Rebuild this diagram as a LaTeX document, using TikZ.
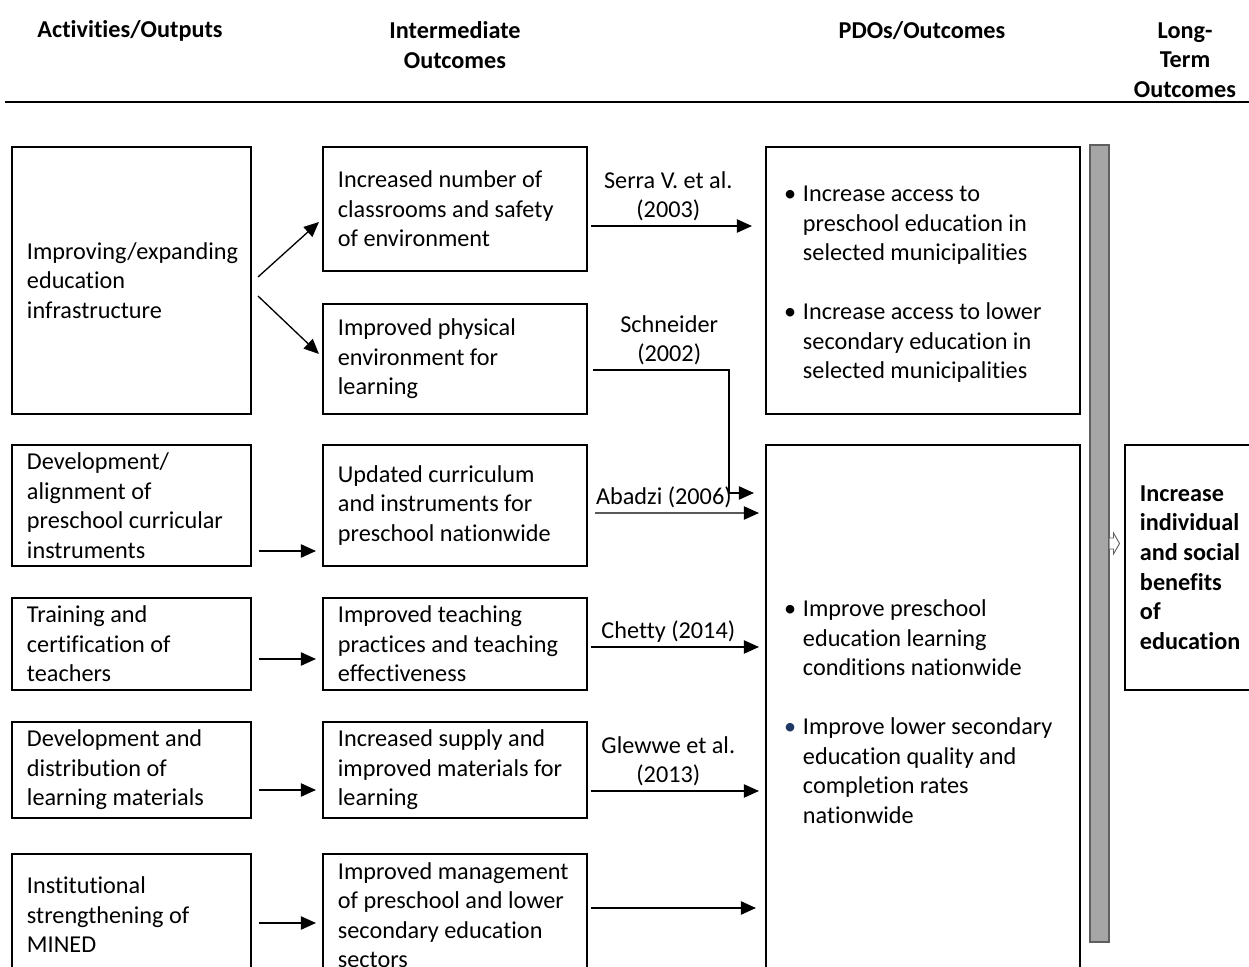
\documentclass[tikz,border=0pt]{standalone}
\usepackage{fontspec}
\setmainfont{Carlito}[Ligatures=NoCommon]
\usetikzlibrary{arrows.meta}

\definecolor{barfill}{RGB}{166,166,166}
\definecolor{baredge}{RGB}{95,95,95}
\definecolor{bulletblue}{RGB}{31,56,100}
\hyphenpenalty=10000
\exhyphenpenalty=10000

\tikzset{
  box/.style={draw, line width=0.9pt, inner xsep=6.8pt, align=flush left},
  colA/.style={box, minimum width=108.5pt, text width=94.9pt},
  colB/.style={box, minimum width=119.9pt, text width=106.3pt},
  colC/.style={box, minimum width=142.6pt, text width=126.2pt, inner xsep=8.2pt},
  head/.style={font=\fontsize{11}{13.4}\selectfont\bfseries, align=center},
  arr/.style={line width=0.6pt, -{Triangle[length=6.8pt,width=6pt]}},
  lbl/.style={align=center, inner sep=2pt},
}

\begin{document}
\begin{tikzpicture}[x=0.454pt, y=-0.454pt, font=\fontsize{11}{13.4}\selectfont]

\useasboundingbox (0,0) rectangle (1249,967);
\clip (0,0) rectangle (1249,967);

\begin{scope}

% encabezado
\node[head] (h1) at (130,31) {Activities/Outputs};
\node[head] (h2) at (455,45) {Intermediate\\Outcomes};
\node[head] (h3) at (922,31) {PDOs/Outcomes};
\node[head] (h4) at (1185,60) {Long-\\Term\\Outcomes};
\draw[line width=0.9pt] (5,102) -- (1249,102);

% actividades
\node[colA, minimum height=121.2pt] (a1) at (131.5,280.5) {Improving/expanding\\education\\infrastructure};
\node[colA, minimum height=54.9pt] (a2) at (131.5,505.5) {Development/\\alignment of\\preschool curricular\\instruments};
\node[colA, minimum height=41.8pt] (a3) at (131.5,644) {Training and\\certification of\\teachers};
\node[colA, minimum height=43.6pt] (a4) at (131.5,770) {Development and\\distribution of\\learning materials};
\node[colA, minimum height=55.4pt] (a5) at (131.5,915) {Institutional\\strengthening of\\MINED};

% resultados intermedios
\node[colB, minimum height=56.3pt] (b1) at (455,209) {Increased number of\\classrooms and safety\\of environment};
\node[colB, minimum height=49.9pt] (b2) at (455,359) {Improved physical\\environment for\\learning};
\node[colB, minimum height=54.9pt] (b3) at (455,505.5) {Updated curriculum\\and instruments for\\preschool nationwide};
\node[colB, minimum height=41.8pt] (b4) at (455,644) {Improved teaching\\practices and teaching\\effectiveness};
\node[colB, minimum height=43.6pt] (b5) at (455,770) {Increased supply and\\improved materials for\\learning};
\node[colB, minimum height=55.4pt] (b6) at (455,915) {Improved management\\of preschool and lower\\secondary education\\sectors};

% PDOs
\node[colC, minimum height=121.2pt] (c1) at (923,280.5) {%
  \begin{tabular}{@{}p{8.6pt}@{}l@{}}
  \rule{0pt}{13pt}\textbullet & Increase access to\\
   & preschool education in\\
   & selected municipalities\\[13.4pt]
  \textbullet & Increase access to lower\\
   & secondary education in\\
   & selected municipalities
  \end{tabular}};
\node[colC, minimum height=241.5pt] (c2) at (923,711) {%
  \begin{tabular}{@{}p{8.6pt}@{}l@{}}
  \rule{0pt}{12.1pt}\textbullet & Improve preschool\\
   & education learning\\
   & conditions nationwide\\[13.4pt]
  \textcolor{bulletblue}{\textbullet} & Improve lower secondary\\
   & education quality and\\
   & completion rates\\
   & nationwide
  \end{tabular}};

% barra y largo plazo
\node[draw=baredge, fill=barfill, line width=0.5pt, minimum width=8.6pt, minimum height=361.8pt, inner sep=0pt] (bar) at (1099.5,543.5) {};
\draw[baredge, fill=white, line width=0.4pt] (bar.east) ++(0,-5.5) -- ++(4,0) -- ++(0,-5) -- ++(6,10.5) -- ++(-6,10.5) -- ++(0,-5) -- ++(-4,0);
\node[box, font=\fontsize{11}{13.4}\selectfont\bfseries, minimum width=62.2pt, text width=48.6pt, minimum height=111.2pt] (d) at (1193.5,567.5) {Increase\\individual\\and social\\benefits\\of\\education};

% flechas
\draw[arr] ([shift={(6,-3.5)}]a1.east) -- ([shift={(-3,13)}]b1.west);
\draw[arr] ([shift={(6,15.5)}]a1.east) -- ([shift={(-3,-5)}]b2.west);
\draw[arr] ([shift={(7,45.5)}]a2.east) -- ([shift={(-6,45.5)}]b3.west);
\draw[arr] ([shift={(7,15)}]a3.east) -- ([shift={(-6,15)}]b4.west);
\draw[arr] ([shift={(7,20)}]a4.east) -- ([shift={(-6,20)}]b5.west);
\draw[arr] ([shift={(7,8)}]a5.east) -- ([shift={(-6,8)}]b6.west);

\draw[arr] ([shift={(3,17)}]b1.east) -- node[lbl, pos=0.48, above] {Serra V. et al.\\(2003)} ([shift={(-13,-54.5)}]c1.west);
\draw[arr] ([shift={(5,11)}]b2.east) -| node[lbl, pos=0.28, above] {Schneider\\(2002)} ++(136,123) -- ([shift={(-11,-218)}]c2.west);
\draw[arr] ([shift={(7,7.5)}]b3.east) -- node[lbl, pos=0.42, above] {Abadzi (2006)} ([shift={(-6,-198)}]c2.west);
\draw[arr] ([shift={(3,3)}]b4.east) -- node[lbl, pos=0.46, above] {Chetty (2014)} ([shift={(-6,-64)}]c2.west);
\draw[arr] ([shift={(3,21)}]b5.east) -- node[lbl, pos=0.46, above] {Glewwe et al.\\(2013)} ([shift={(-6,80)}]c2.west);
\draw[arr] ([shift={(3,-7)}]b6.east) -- ([shift={(-9,197)}]c2.west);

\end{scope}

\end{tikzpicture}
\end{document}
